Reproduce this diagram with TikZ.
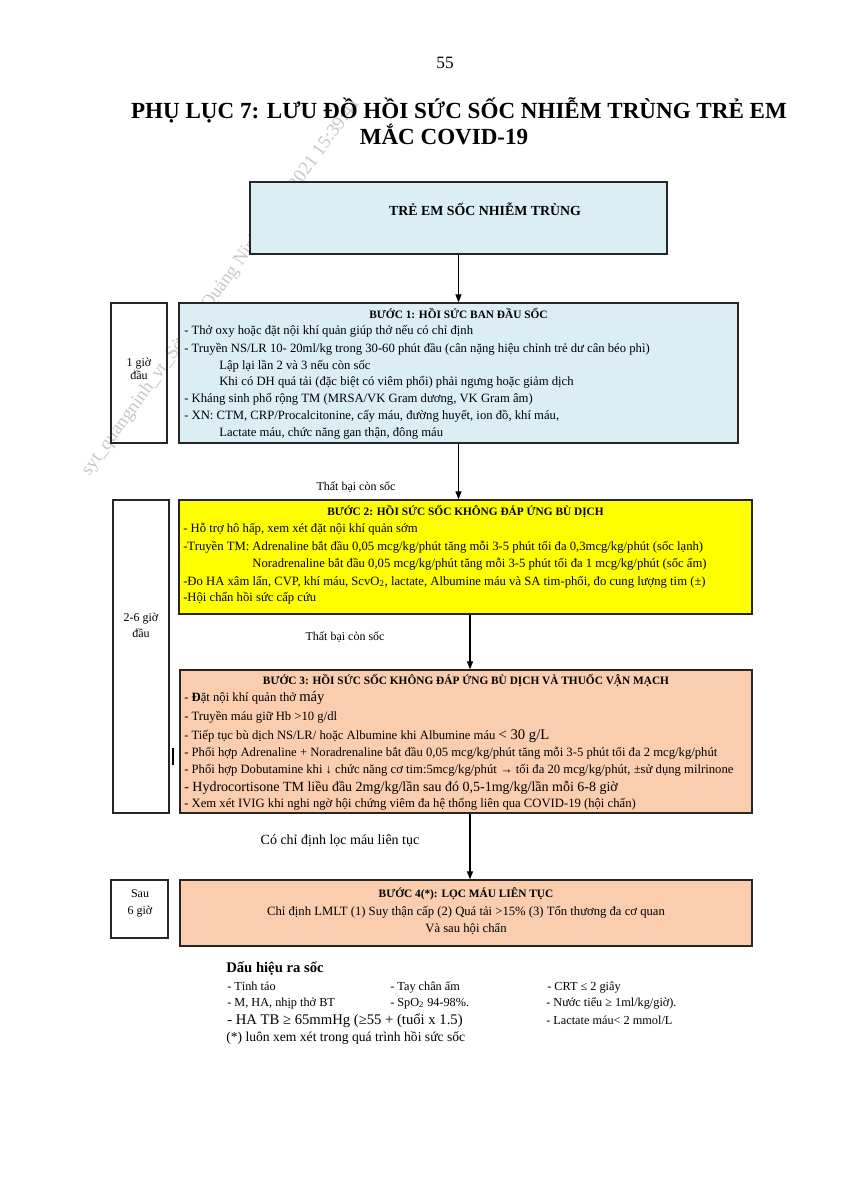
\documentclass[tikz,border=0pt]{standalone}
\usepackage{fontspec}
\setmainfont{Liberation Serif}
\usetikzlibrary{arrows.meta,fit}
\newcommand\fz[1]{\fontsize{#1}{#1}\selectfont}
\definecolor{lblue}{HTML}{DBEEF4}
\definecolor{salmon}{HTML}{F9CDAE}
\definecolor{yel}{HTML}{FFFF00}
\definecolor{wmc}{HTML}{C8C8C8}
\begin{document}
\begin{tikzpicture}[x=0.75pt,y=-0.75pt,
  box/.style={draw=black!85,line width=1pt,inner sep=0pt},
  ln/.style={anchor=base west,inner sep=0pt,font=\fz{9.5}},
  big/.style={anchor=base west,inner sep=0pt,font=\fz{10.5}},
  ttl/.style={anchor=base,inner sep=0pt,font=\fz{8.5}\bfseries},
  ctr/.style={anchor=base,inner sep=0pt,font=\fz{9.5}},
  side/.style={anchor=base,inner sep=0pt,font=\fz{9}},
  note/.style={anchor=base west,inner sep=0pt,font=\fz{9.2}},
  arr/.style={line width=0.9pt,-{Triangle[length=6pt,width=4.5pt]}},
  wmark/.style={inner sep=0pt,text=wmc,font=\fz{14}}]
\path[use as bounding box,fill=white] (0,0) rectangle (848,1200);
% watermark
\node[wmark,rotate=54] (wm) at (221,287) {syt\_quangninh\_vt\_Sở Y tế Quảng Ninh\_08/11/2021 15:39:41};
% header
\node[anchor=base,inner sep=0pt,font=\fz{13}] (pg) at (445,68) {55};
\node[anchor=base,inner sep=0pt,font=\fz{17.3}\bfseries] (t1) at (459,118) {PHỤ LỤC 7: LƯU ĐỒ HỒI SỨC SỐC NHIỄM TRÙNG TRẺ EM};
\node[anchor=base,inner sep=0pt,font=\fz{17.3}\bfseries] (t2) at (444,144) {MẮC COVID-19};
% top box
\node[box,fill=lblue,fit={(250,182) (667,254)}] (top) {};
\node[anchor=base,inner sep=0pt,font=\fz{10.4}\bfseries] (toptxt) at (485,215) {TRẺ EM SỐC NHIỄM TRÙNG};
% step 1
\node[box,fill=lblue,fit={(179,303) (738,443)}] (s1) {};
\node[ttl] (s1t) at (458.5,318) {BƯỚC 1: HỒI SỨC BAN ĐẦU SỐC};
\node[ln] (s1a) at (184,334) {- Thở oxy hoặc đặt nội khí quản giúp thở nếu có chỉ định};
\node[ln] (s1b) at (184,352) {- Truyền NS/LR 10- 20ml/kg trong 30-60 phút đầu (cân nặng hiệu chỉnh trẻ dư cân béo phì)};
\node[ln] (s1c) at (219,369) {Lập lại lần 2 và 3 nếu còn sốc};
\node[ln] (s1d) at (219,385) {Khi có DH quá tải (đặc biệt có viêm phổi) phải ngưng hoặc giảm dịch};
\node[ln] (s1e) at (184,402) {- Kháng sinh phổ rộng TM (MRSA/VK Gram dương, VK Gram âm)};
\node[ln] (s1f) at (184,419) {- XN: CTM, CRP/Procalcitonine, cấy máu, đường huyết, ion đồ, khí máu,};
\node[ln] (s1g) at (219,436) {Lactate máu, chức năng gan thận, đông máu};
\node[box,fit={(111,303) (167,443)}] (h1) {};
\node[side] (h1a) at (139,366) {1 giờ};
\node[side] (h1b) at (139,379) {đầu};
\draw[arr] (top.south) -- (s1.north);
% step 2
\node[box,fill=yel,fit={(179,500) (752,614)}] (s2) {};
\draw[arr] (s1.south) -- (s1.south |- s2.north);
\node[side] (f1) at (356,490) {Thất bại còn sốc};
\node[ttl] (s2t) at (465.5,515) {BƯỚC 2: HỒI SỨC SỐC KHÔNG ĐÁP ỨNG BÙ DỊCH};
\node[ln] (s2a) at (183,532) {- Hỗ trợ hô hấp, xem xét đặt nội khí quản sớm};
\node[ln] (s2b) at (183,550) {-Truyền TM: Adrenaline bắt đầu 0,05 mcg/kg/phút tăng mỗi 3-5 phút tối đa 0,3mcg/kg/phút (sốc lạnh)};
\node[ln] (s2c) at (183,567) {\phantom{-Truyền TM: }Noradrenaline bắt đầu 0,05 mcg/kg/phút tăng mỗi 3-5 phút tối đa 1 mcg/kg/phút (sốc ấm)};
\node[ln] (s2d) at (183,585) {-Đo HA xâm lấn, CVP, khí máu, ScvO\textsubscript{2}, lactate, Albumine máu và SA tim-phổi, đo cung lượng tim (±)};
\node[ln] (s2e) at (183,601) {-Hội chẩn hồi sức cấp cứu};
\node[box,fit={(113,500) (169,813)}] (h2) {};
\node[side] (h2a) at (141,621) {2-6 giờ};
\node[side] (h2b) at (141,637) {đầu};
\draw[line width=1pt] (173,748) -- (173,765);
% step 3
\coordinate (ax) at (470,0);
\node[box,fill=salmon,fit={(180,670) (752,813)}] (s3) {};
\draw[arr] (s2.south -| ax) -- (s3.north -| ax);
\node[side] (f2) at (345,640) {Thất bại còn sốc};
\node[ttl] (s3t) at (466,684) {BƯỚC 3: HỒI SỨC SỐC KHÔNG ĐÁP ỨNG BÙ DỊCH VÀ THUỐC VẬN MẠCH};
\node[ln] (s3a) at (184,701) {- \textbf{Đ}ặt nội khí quản thở {\fz{11}máy}};
\node[ln] (s3b) at (184,720) {- Truyền máu giữ Hb >10 g/dl};
\node[ln] (s3c) at (184,739) {- Tiếp tục bù dịch NS/LR/ hoặc Albumine khi Albumine máu {\fz{11}< 30 g/L}};
\node[ln] (s3d) at (184,756) {- Phối hợp Adrenaline + Noradrenaline bắt đầu 0,05 mcg/kg/phút tăng mỗi 3-5 phút tối đa 2 mcg/kg/phút};
\node[ln] (s3e) at (184,773) {- Phối hợp Dobutamine khi ↓ chức năng cơ tim:5mcg/kg/phút → tối đa 20 mcg/kg/phút, ±sử dụng milrinone};
\node[big] (s3f) at (184,791) {- Hydrocortisone TM liều đầu 2mg/kg/lần sau đó 0,5-1mg/kg/lần mỗi 6-8 giờ};
\node[ln] (s3g) at (184,807) {- Xem xét IVIG khi nghi ngờ hội chứng viêm đa hệ thống liên qua COVID-19 (hội chẩn)};
% step 4
\node[box,fill=salmon,fit={(180,880) (752,946)}] (s4) {};
\draw[arr] (s3.south -| ax) -- (s4.north -| ax);
\node[anchor=base,inner sep=0pt,font=\fz{10.5}] (f3) at (340,844) {Có chỉ định lọc máu liên tục};
\node[ttl] (s4t) at (466,897) {BƯỚC 4(*): LỌC MÁU LIÊN TỤC};
\node[ctr] (s4a) at (466,915) {Chỉ định LMLT (1) Suy thận cấp (2) Quá tải >15\% (3) Tổn thương đa cơ quan};
\node[ctr] (s4b) at (466,932) {Và sau hội chẩn};
\node[box,fit={(111,880) (168,938)}] (h3) {};
\node[side] (h3a) at (140,897) {Sau};
\node[side] (h3b) at (140,914) {6 giờ};
% bottom notes
\node[anchor=base west,inner sep=0pt,font=\fz{11}\bfseries] (dh) at (226,972) {Dấu hiệu ra sốc};
\node[note] (r1a) at (227,990) {- Tỉnh táo};
\node[note] (r1b) at (390,990) {- Tay chân ấm};
\node[note] (r1c) at (547,990) {- CRT ≤ 2 giây};
\node[note] (r2a) at (227,1006) {- M, HA, nhịp thở BT};
\node[note] (r2b) at (390,1006) {- SpO\textsubscript{2} 94-98\%.};
\node[note] (r2c) at (546,1006) {- Nước tiểu ≥ 1ml/kg/giờ).};
\node[anchor=base west,inner sep=0pt,font=\fz{11}] (r3a) at (227,1024) {- HA TB ≥ 65mmHg (≥55 + (tuổi x 1.5)};
\node[note] (r3c) at (546,1024) {- Lactate máu< 2 mmol/L};
\node[anchor=base west,inner sep=0pt,font=\fz{10.2}] (r4) at (226,1041) {(*) luôn xem xét trong quá trình hồi sức sốc};
\end{tikzpicture}
\end{document}
